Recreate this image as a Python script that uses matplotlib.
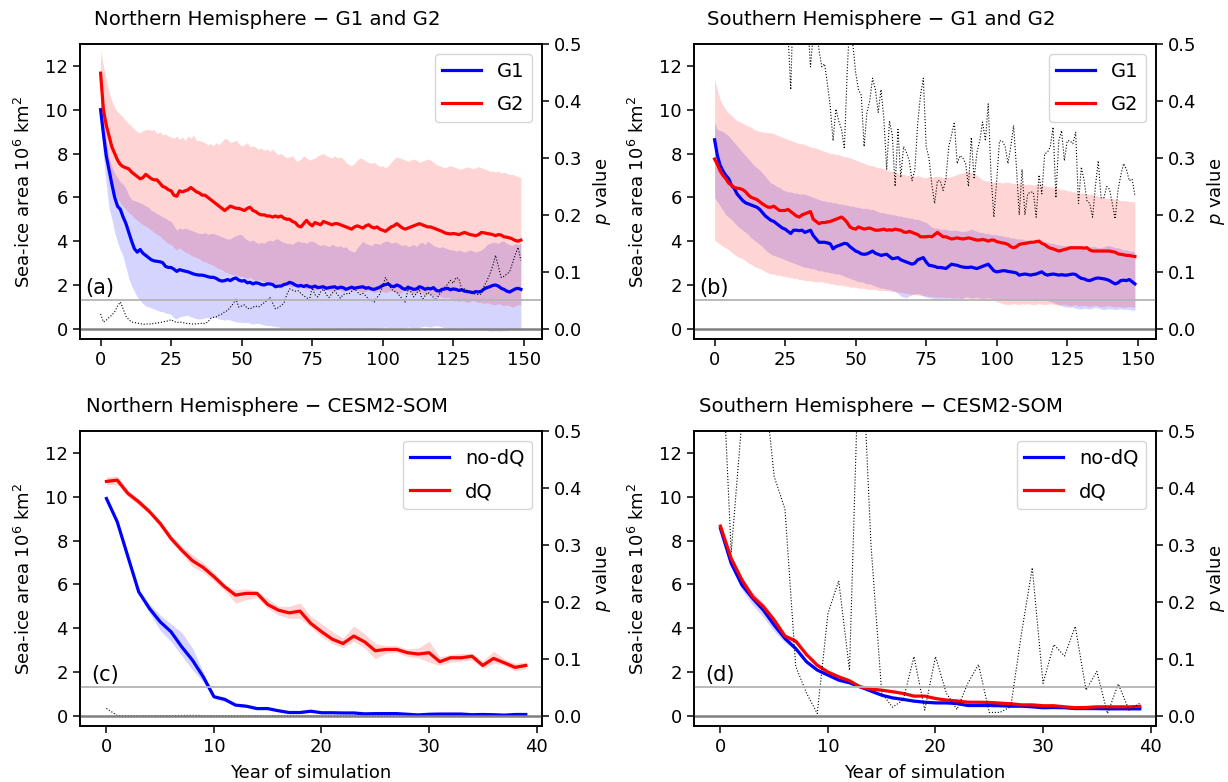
import numpy as np
import matplotlib
matplotlib.use("Agg")
import matplotlib.pyplot as plt

# ---------------- Panel (a): Northern Hemisphere G1 / G2 ----------------
a_g1 = [10.0, 8.9, 7.9, 7.25, 6.6, 6.0, 5.6, 5.45, 5.1, 4.8,
        4.4, 4.0, 3.65, 3.5, 3.62, 3.45, 3.35, 3.25, 3.15, 3.1,
        3.08, 3.06, 3.02, 2.85, 2.8, 2.8, 2.72, 2.62, 2.7, 2.66,
        2.63, 2.6, 2.55, 2.5, 2.47, 2.45, 2.45, 2.42, 2.38, 2.35,
        2.35, 2.3, 2.22, 2.18, 2.2, 2.25, 2.2, 2.28, 2.32, 2.22,
        2.18, 2.2, 2.1, 2.12, 2.05, 2.1, 2.08, 2.02, 2.0, 2.05,
        2.05, 2.02, 1.92, 1.95, 1.95, 2.02, 2.05, 2.12, 2.08, 2.0,
        1.95, 1.98, 1.93, 1.98, 1.92, 1.9, 1.95, 1.88, 1.9, 1.92,
        1.85, 1.88, 1.9, 1.92, 1.85, 1.9, 1.88, 1.8, 1.85, 1.9,
        1.85, 1.88, 1.9, 1.92, 1.85, 1.88, 1.82, 1.8, 1.85, 1.9,
        1.98, 2.02, 2.05, 1.95, 1.92, 2.0, 1.95, 1.85, 1.8, 1.9,
        1.85, 1.8, 1.82, 1.92, 1.88, 1.8, 1.85, 1.82, 1.88, 1.75,
        1.72, 1.8, 1.82, 1.85, 1.78, 1.82, 1.8, 1.75, 1.78, 1.72,
        1.7, 1.68, 1.65, 1.7, 1.68, 1.72, 1.82, 1.88, 1.92, 1.98,
        2.0, 1.95, 1.85, 1.8, 1.72, 1.68, 1.75, 1.82, 1.85, 1.8]
a_g1_hi = [10.6, 9.6, 8.6, 7.8, 7.4, 7.1, 6.9, 6.7, 6.6, 6.4,
           6.1, 5.9, 5.85, 5.8, 5.75, 5.7, 5.6, 5.55, 5.4, 5.35,
           5.25, 5.2, 5.1, 5.05, 4.95, 4.9, 4.7, 4.5, 4.6, 4.55,
           4.6, 4.55, 4.5, 4.45, 4.4, 4.35, 4.35, 4.4, 4.3, 4.35,
           4.35, 4.3, 4.25, 4.2, 4.15, 4.1, 4.1, 4.2, 4.25, 4.3,
           4.3, 4.15, 4.05, 4.0, 4.05, 3.95, 3.9, 3.95, 3.9, 4.0,
           4.05, 4.0, 4.1, 4.1, 4.0, 3.95, 3.9, 3.9, 3.85, 3.95,
           4.0, 3.95, 3.95, 3.9, 4.0, 4.0, 3.95, 3.85, 3.8, 3.85,
           3.8, 3.75, 3.85, 3.8, 3.75, 3.8, 3.7, 3.75, 3.6, 3.55,
           3.5, 3.7, 3.85, 4.0, 3.9, 3.85, 3.8, 3.9, 3.9, 3.85,
           3.95, 4.0, 4.0, 3.9, 3.95, 3.95, 3.85, 3.8, 3.85, 3.75,
           3.8, 3.85, 3.75, 3.9, 3.95, 3.85, 4.0, 3.9, 3.8, 3.75,
           3.7, 3.75, 3.7, 3.65, 3.6, 3.6, 3.55, 3.6, 3.55, 3.5,
           3.55, 3.6, 3.55, 3.5, 3.55, 3.6, 3.7, 3.85, 3.9, 3.95,
           3.95, 3.9, 4.0, 4.0, 3.9, 3.85, 3.8, 3.9, 3.85, 3.9]
a_g1_lo = [9.4, 7.9, 6.6, 5.5, 5.0, 4.4, 3.95, 3.6, 3.3, 2.8,
           2.3, 1.95, 1.7, 1.45, 1.3, 1.15, 1.05, 1.0, 0.95, 0.9,
           0.85, 0.8, 0.78, 0.72, 0.7, 0.65, 0.5, 0.45, 0.55, 0.58,
           0.6, 0.62, 0.55, 0.5, 0.45, 0.45, 0.45, 0.5, 0.52, 0.5,
           0.55, 0.5, 0.45, 0.42, 0.4, 0.42, 0.4, 0.35, 0.32, 0.3,
           0.3, 0.28, 0.3, 0.25, 0.22, 0.25, 0.25, 0.2, 0.18, 0.15,
           0.15, 0.12, 0.1, 0.08, 0.06, 0.05, 0.05, 0.04, 0.05, 0.04,
           0.03, 0.05, 0.04, 0.03, 0.05, 0.04, 0.02, 0.03, 0.05, 0.04,
           0.03, 0.02, 0.04, 0.05, 0.03, 0.02, 0.03, 0.04, 0.02, 0.0,
           0.02, 0.03, 0.05, 0.03, 0.02, 0.0, -0.02, 0.0, 0.02, 0.03,
           0.05, 0.08, 0.05, 0.02, 0.03, 0.05, 0.03, 0.02, 0.05, 0.08,
           0.05, 0.03, 0.02, 0.05, 0.1, 0.12, 0.1, 0.08, 0.12, 0.15,
           0.12, 0.08, 0.05, 0.03, 0.02, 0.0, 0.03, 0.05, 0.02, 0.0,
           -0.02, 0.0, 0.02, 0.0, -0.03, -0.05, -0.05, -0.08, -0.1, -0.1,
           -0.08, -0.1, -0.1, -0.08, -0.1, -0.05, -0.05, -0.08, -0.05, -0.05]
a_g2 = [11.67, 10.0, 9.3, 8.8, 8.3, 8.0, 7.7, 7.5, 7.4, 7.35,
        7.3, 7.15, 7.05, 6.95, 6.85, 6.9, 7.05, 6.95, 6.85, 6.8,
        6.8, 6.65, 6.5, 6.45, 6.35, 6.3, 6.1, 6.05, 6.3, 6.25,
        6.3, 6.35, 6.45, 6.35, 6.25, 6.2, 6.1, 6.1, 6.0, 5.9,
        5.8, 5.7, 5.6, 5.5, 5.4, 5.5, 5.6, 5.55, 5.5, 5.5,
        5.45, 5.4, 5.5, 5.55, 5.4, 5.35, 5.25, 5.2, 5.2, 5.15,
        5.15, 5.1, 5.15, 5.1, 5.15, 5.05, 5.0, 5.0, 4.9, 4.85,
        4.7, 4.65, 4.8, 4.95, 4.8, 4.7, 4.85, 4.8, 4.75, 4.9,
        4.85, 4.8, 4.75, 4.8, 4.8, 4.75, 4.7, 4.65, 4.6, 4.55,
        4.65, 4.7, 4.65, 4.6, 4.7, 4.75, 4.65, 4.6, 4.65, 4.55,
        4.5, 4.45, 4.55, 4.65, 4.7, 4.8, 4.7, 4.6, 4.55, 4.6,
        4.65, 4.7, 4.75, 4.8, 4.75, 4.7, 4.65, 4.65, 4.6, 4.55,
        4.5, 4.45, 4.38, 4.35, 4.33, 4.35, 4.33, 4.3, 4.35, 4.4,
        4.35, 4.3, 4.28, 4.25, 4.3, 4.4, 4.38, 4.35, 4.33, 4.3,
        4.25, 4.3, 4.28, 4.2, 4.18, 4.15, 4.1, 4.03, 4.0, 4.05]
a_g2_hi = [12.7, 12.0, 11.4, 10.8, 10.4, 10.1, 9.9, 9.8, 9.65, 9.5,
           9.35, 9.25, 9.1, 9.0, 8.95, 9.05, 9.1, 9.1, 9.05, 9.1,
           8.9, 9.0, 8.85, 8.9, 8.8, 8.75, 8.7, 8.8, 8.65, 8.75,
           8.6, 8.8, 8.7, 8.85, 8.6, 8.6, 8.55, 8.5, 8.4, 8.45,
           8.35, 8.5, 8.4, 8.55, 8.7, 8.65, 8.5, 8.55, 8.6, 8.45,
           8.35, 8.4, 8.5, 8.3, 8.35, 8.3, 8.2, 8.25, 8.15, 8.2,
           8.1, 8.2, 8.05, 7.95, 8.0, 7.9, 7.8, 7.85, 7.9, 7.7,
           7.65, 7.75, 7.9, 7.8, 7.7, 7.75, 7.8, 7.9, 7.95, 8.0,
           7.9, 7.85, 7.8, 7.9, 7.8, 7.85, 7.75, 7.6, 7.5, 7.45,
           7.55, 7.7, 7.8, 7.75, 7.65, 7.6, 7.55, 7.6, 7.5, 7.4,
           7.45, 7.35, 7.45, 7.6, 7.75, 7.85, 7.8, 7.75, 7.7, 7.65,
           7.7, 7.75, 7.7, 7.6, 7.65, 7.7, 7.75, 7.7, 7.6, 7.5,
           7.45, 7.4, 7.35, 7.4, 7.45, 7.4, 7.35, 7.3, 7.3, 7.35,
           7.4, 7.35, 7.3, 7.35, 7.4, 7.35, 7.3, 7.25, 7.2, 7.2,
           7.15, 7.2, 7.1, 7.15, 7.1, 7.05, 7.05, 7.0, 6.95, 6.9]
a_g2_lo = [9.5, 8.3, 7.5, 6.9, 6.5, 6.2, 5.95, 5.75, 5.6, 5.45,
           5.3, 5.2, 5.05, 4.95, 4.85, 4.75, 4.7, 4.6, 4.5, 4.4,
           4.3, 4.25, 4.1, 4.0, 3.9, 3.85, 3.7, 3.6, 3.7, 3.6,
           3.5, 3.45, 3.35, 3.3, 3.25, 3.2, 3.1, 3.05, 3.0, 2.95,
           2.9, 2.8, 2.75, 2.7, 2.6, 2.55, 2.5, 2.45, 2.45, 2.4,
           2.4, 2.35, 2.3, 2.35, 2.25, 2.2, 2.25, 2.2, 2.15, 2.1,
           2.15, 2.1, 2.05, 2.1, 2.0, 1.95, 2.0, 1.95, 1.9, 1.95,
           1.85, 1.9, 1.85, 1.8, 1.85, 1.8, 1.75, 1.8, 1.85, 1.75,
           1.8, 1.75, 1.7, 1.75, 1.8, 1.75, 1.7, 1.75, 1.8, 1.7,
           1.75, 1.8, 1.7, 1.65, 1.7, 1.75, 1.7, 1.65, 1.7, 1.75,
           1.7, 1.65, 1.7, 1.75, 1.7, 1.65, 1.6, 1.7, 1.75, 1.7,
           1.65, 1.6, 1.65, 1.7, 1.6, 1.55, 1.6, 1.55, 1.5, 1.45,
           1.5, 1.45, 1.4, 1.45, 1.4, 1.35, 1.3, 1.25, 1.3, 1.25,
           1.2, 1.25, 1.3, 1.25, 1.2, 1.2, 1.15, 1.2, 1.15, 1.1,
           1.1, 1.15, 1.1, 1.05, 1.1, 1.05, 1.0, 1.05, 1.1, 1.1]
a_p = [0.026, 0.012, 0.015, 0.02, 0.024, 0.03, 0.04, 0.047, 0.035, 0.022,
       0.016, 0.012, 0.011, 0.01, 0.009, 0.008, 0.008, 0.009, 0.008, 0.01,
       0.01, 0.011, 0.012, 0.013, 0.014, 0.016, 0.013, 0.011, 0.012, 0.011,
       0.01, 0.009, 0.009, 0.008, 0.009, 0.009, 0.01, 0.009, 0.012, 0.018,
       0.02, 0.021, 0.024, 0.026, 0.03, 0.032, 0.038, 0.044, 0.052, 0.038,
       0.04, 0.042, 0.036, 0.035, 0.038, 0.04, 0.038, 0.042, 0.046, 0.05,
       0.055, 0.045, 0.035, 0.037, 0.041, 0.045, 0.06, 0.07, 0.068, 0.066,
       0.067, 0.062, 0.058, 0.055, 0.05, 0.072, 0.06, 0.056, 0.065, 0.07,
       0.06, 0.055, 0.062, 0.067, 0.06, 0.054, 0.06, 0.062, 0.061, 0.066,
       0.07, 0.065, 0.06, 0.062, 0.058, 0.052, 0.05, 0.047, 0.055, 0.061,
       0.075, 0.09, 0.08, 0.07, 0.066, 0.064, 0.058, 0.052, 0.047, 0.07,
       0.065, 0.056, 0.062, 0.07, 0.05, 0.058, 0.064, 0.06, 0.055, 0.05,
       0.06, 0.065, 0.073, 0.078, 0.085, 0.08, 0.09, 0.088, 0.07, 0.07,
       0.067, 0.064, 0.062, 0.061, 0.06, 0.061, 0.075, 0.085, 0.096, 0.11,
       0.129, 0.11, 0.09, 0.092, 0.096, 0.1, 0.115, 0.13, 0.143, 0.12]

# ---------------- Panel (b): Southern Hemisphere G1 / G2 ----------------
b_g1 = [8.63, 7.9, 7.45, 7.2, 7.0, 6.85, 6.55, 6.4, 6.15, 6.0,
        5.85, 5.75, 5.7, 5.65, 5.6, 5.55, 5.45, 5.3, 5.15, 5.05,
        4.95, 4.9, 4.8, 4.7, 4.6, 4.55, 4.45, 4.35, 4.5, 4.5,
        4.48, 4.5, 4.4, 4.45, 4.5, 4.25, 4.1, 3.95, 3.95, 3.95,
        3.92, 3.88, 3.65, 3.75, 3.8, 3.85, 3.9, 3.88, 3.75, 3.65,
        3.55, 3.5, 3.42, 3.4, 3.42, 3.48, 3.55, 3.45, 3.4, 3.35,
        3.38, 3.4, 3.3, 3.2, 3.22, 3.25, 3.15, 3.1, 3.05, 3.0,
        2.95, 3.0, 3.15, 3.2, 3.25, 3.05, 2.9, 2.88, 2.85, 2.8,
        2.8, 2.78, 2.75, 2.85, 2.95, 2.92, 2.9, 2.85, 2.82, 2.8,
        2.8, 2.82, 2.78, 2.75, 2.8, 2.85, 2.9, 2.95, 2.8, 2.65,
        2.6, 2.62, 2.65, 2.65, 2.62, 2.6, 2.58, 2.55, 2.45, 2.48,
        2.5, 2.48, 2.45, 2.48, 2.5, 2.55, 2.6, 2.5, 2.45, 2.48,
        2.5, 2.48, 2.45, 2.47, 2.45, 2.45, 2.48, 2.5, 2.48, 2.38,
        2.3, 2.28, 2.22, 2.2, 2.25, 2.3, 2.32, 2.3, 2.28, 2.25,
        2.2, 2.12, 2.05, 2.1, 2.2, 2.22, 2.2, 2.25, 2.15, 2.05]
b_g1_hi = [9.4, 9.1, 9.05, 9.0, 8.9, 8.8, 8.65, 8.5, 8.35, 8.2,
           8.05, 7.9, 7.75, 7.6, 7.45, 7.35, 7.25, 7.1, 6.95, 6.8,
           6.65, 6.6, 6.5, 6.45, 6.35, 6.3, 6.25, 6.25, 6.2, 6.2,
           6.15, 6.15, 6.15, 6.1, 6.05, 6.0, 5.95, 5.9, 5.85, 5.85,
           5.8, 5.8, 5.75, 5.75, 5.7, 5.7, 5.65, 5.65, 5.6, 5.6,
           5.55, 5.55, 5.5, 5.5, 5.5, 5.45, 5.45, 5.4, 5.35, 5.3,
           5.3, 5.25, 5.25, 5.2, 5.2, 5.15, 5.15, 5.1, 5.1, 5.05,
           5.05, 5.0, 5.0, 4.95, 4.9, 4.85, 4.75, 4.65, 4.6, 4.6,
           4.55, 4.55, 4.55, 4.5, 4.5, 4.5, 4.5, 4.45, 4.45, 4.45,
           4.5, 4.55, 4.5, 4.45, 4.4, 4.4, 4.35, 4.35, 4.3, 4.3,
           4.3, 4.25, 4.25, 4.2, 4.2, 4.15, 4.15, 4.1, 4.1, 4.1,
           4.05, 4.05, 4.0, 4.0, 4.05, 4.1, 4.0, 3.95, 3.95, 3.9,
           3.9, 3.85, 3.85, 3.8, 3.8, 3.8, 3.75, 3.75, 3.75, 3.7,
           3.7, 3.7, 3.7, 3.72, 3.75, 3.75, 3.7, 3.7, 3.75, 3.8,
           3.8, 3.75, 3.7, 3.7, 3.65, 3.6, 3.6, 3.55, 3.55, 3.5]
b_g1_lo = [6.0, 5.8, 5.6, 5.4, 5.2, 5.1, 5.0, 4.85, 4.7, 4.6,
           4.5, 4.4, 4.3, 4.15, 4.05, 3.95, 3.85, 3.75, 3.6, 3.5,
           3.4, 3.35, 3.3, 3.25, 3.2, 3.15, 3.1, 3.05, 3.0, 2.95,
           2.9, 2.85, 2.8, 2.8, 2.75, 2.75, 2.7, 2.65, 2.65, 2.6,
           2.6, 2.55, 2.55, 2.5, 2.5, 2.45, 2.4, 2.35, 2.3, 2.25,
           2.2, 2.15, 2.15, 2.1, 2.05, 2.05, 2.0, 1.95, 1.9, 1.85,
           1.85, 1.8, 1.8, 1.75, 1.7, 1.6, 1.5, 1.45, 1.42, 1.5,
           1.55, 1.6, 1.6, 1.58, 1.5, 1.45, 1.42, 1.4, 1.35, 1.3,
           1.3, 1.32, 1.35, 1.3, 1.28, 1.3, 1.35, 1.3, 1.4, 1.45,
           1.45, 1.4, 1.42, 1.45, 1.4, 1.38, 1.4, 1.42, 1.4, 1.38,
           1.35, 1.3, 1.3, 1.32, 1.35, 1.3, 1.28, 1.3, 1.32, 1.35,
           1.3, 1.32, 1.35, 1.3, 1.28, 1.3, 1.32, 1.3, 1.28, 1.25,
           1.2, 1.15, 1.1, 1.05, 1.0, 1.0, 0.98, 1.0, 0.95, 0.92,
           0.9, 0.95, 0.92, 0.9, 0.95, 0.98, 0.95, 0.9, 0.88, 0.9,
           0.92, 0.9, 0.88, 0.9, 0.92, 0.88, 0.9, 0.88, 0.85, 0.85]
b_g2 = [7.75, 7.5, 7.2, 7.0, 6.85, 6.65, 6.55, 6.45, 6.42, 6.4,
        6.35, 6.25, 6.1, 6.0, 5.95, 5.9, 5.8, 5.7, 5.62, 5.55,
        5.55, 5.6, 5.5, 5.4, 5.4, 5.4, 5.45, 5.35, 5.25, 5.15,
        5.1, 5.2, 5.25, 5.3, 5.35, 5.0, 4.9, 4.8, 4.85, 4.85,
        4.88, 4.9, 4.95, 5.0, 5.05, 5.1, 5.0, 4.85, 4.65, 4.58,
        4.55, 4.65, 4.6, 4.55, 4.58, 4.6, 4.55, 4.5, 4.5, 4.52,
        4.55, 4.5, 4.52, 4.5, 4.55, 4.52, 4.5, 4.42, 4.4, 4.45,
        4.4, 4.35, 4.3, 4.2, 4.2, 4.2, 4.22, 4.2, 4.3, 4.4,
        4.3, 4.2, 4.2, 4.15, 4.1, 4.12, 4.15, 4.12, 4.1, 4.12,
        4.15, 4.12, 4.08, 4.05, 4.05, 4.08, 4.05, 4.0, 4.05, 4.05,
        3.98, 3.95, 3.92, 3.9, 3.85, 3.75, 3.7, 3.75, 3.85, 3.88,
        3.9, 3.92, 3.95, 3.95, 3.98, 4.0, 3.9, 3.85, 3.75, 3.68,
        3.65, 3.6, 3.55, 3.58, 3.62, 3.65, 3.7, 3.7, 3.7, 3.7,
        3.7, 3.68, 3.7, 3.6, 3.55, 3.55, 3.55, 3.55, 3.55, 3.55,
        3.55, 3.52, 3.5, 3.42, 3.4, 3.38, 3.35, 3.35, 3.32, 3.3]
b_g2_hi = [11.4, 10.9, 10.45, 10.2, 10.0, 9.85, 9.75, 9.6, 9.5, 9.45,
           9.4, 9.3, 9.25, 9.2, 9.1, 9.05, 9.0, 9.0, 8.95, 8.95,
           8.95, 8.9, 8.85, 8.8, 8.75, 8.7, 8.65, 8.6, 8.55, 8.5,
           8.45, 8.45, 8.4, 8.35, 8.3, 8.28, 8.25, 8.2, 8.15, 8.1,
           8.05, 8.0, 8.0, 7.95, 7.95, 7.9, 7.85, 7.85, 7.8, 7.75,
           7.7, 7.65, 7.6, 7.55, 7.5, 7.45, 7.45, 7.4, 7.35, 7.35,
           7.3, 7.25, 7.2, 7.2, 7.15, 7.1, 7.05, 7.05, 7.0, 7.0,
           7.0, 6.95, 7.0, 6.95, 6.9, 6.9, 6.95, 6.9, 6.95, 6.95,
           6.95, 6.9, 6.95, 6.9, 6.95, 7.0, 7.05, 7.1, 7.1, 7.15,
           7.2, 7.15, 7.1, 7.0, 6.9, 6.8, 6.75, 6.75, 6.7, 6.7,
           6.7, 6.7, 6.65, 6.7, 6.7, 6.65, 6.65, 6.6, 6.65, 6.6,
           6.6, 6.6, 6.6, 6.55, 6.6, 6.6, 6.6, 6.55, 6.5, 6.5,
           6.45, 6.45, 6.4, 6.35, 6.35, 6.3, 6.3, 6.25, 6.25, 6.2,
           6.2, 6.2, 6.15, 6.15, 6.15, 6.1, 6.05, 6.0, 6.0, 5.95,
           5.95, 5.95, 5.9, 5.9, 5.85, 5.85, 5.85, 5.8, 5.8, 5.8]
b_g2_lo = [4.05, 3.95, 3.85, 3.75, 3.7, 3.6, 3.5, 3.4, 3.3, 3.25,
           3.2, 3.1, 3.0, 2.95, 2.85, 2.8, 2.75, 2.7, 2.6, 2.55,
           2.5, 2.5, 2.45, 2.45, 2.4, 2.4, 2.35, 2.35, 2.3, 2.3,
           2.25, 2.25, 2.2, 2.2, 2.2, 2.15, 2.15, 2.15, 2.15, 2.1,
           2.1, 2.05, 2.05, 2.0, 2.0, 2.0, 1.95, 1.95, 1.9, 1.9,
           1.9, 1.85, 1.85, 1.85, 1.8, 1.8, 1.8, 1.8, 1.75, 1.75,
           1.75, 1.75, 1.72, 1.7, 1.7, 1.68, 1.65, 1.65, 1.62, 1.6,
           1.58, 1.55, 1.55, 1.52, 1.5, 1.5, 1.48, 1.48, 1.45, 1.45,
           1.45, 1.45, 1.42, 1.45, 1.42, 1.4, 1.42, 1.4, 1.38, 1.4,
           1.38, 1.35, 1.38, 1.35, 1.32, 1.35, 1.32, 1.3, 1.3, 1.28,
           1.25, 1.2, 1.15, 1.12, 1.1, 1.12, 1.15, 1.12, 1.1, 1.15,
           1.12, 1.15, 1.12, 1.1, 1.12, 1.15, 1.12, 1.1, 1.12, 1.15,
           1.12, 1.1, 1.08, 1.1, 1.12, 1.08, 1.05, 1.08, 1.1, 1.05,
           1.05, 1.08, 1.05, 1.02, 1.05, 1.08, 1.05, 1.0, 1.02, 1.05,
           1.05, 1.02, 1.0, 1.02, 1.0, 0.98, 1.0, 1.02, 1.0, 0.98]
b_p = [0.82, 0.75, 0.88, 0.79, 0.71, 0.85, 0.77, 0.9, 0.8, 0.74,
       0.86, 0.78, 0.7, 0.83, 0.76, 0.88, 0.8, 0.72, 0.84, 0.79,
       0.73, 0.87, 0.78, 0.7, 0.81, 0.62, 0.52, 0.42, 0.6, 0.55,
       0.58, 0.63, 0.56, 0.54, 0.46, 0.52, 0.55, 0.49, 0.46, 0.465,
       0.43, 0.39, 0.33, 0.386, 0.365, 0.35, 0.316, 0.45, 0.55, 0.5,
       0.45, 0.42, 0.41, 0.32, 0.38, 0.4, 0.44, 0.42, 0.38, 0.42,
       0.37, 0.28, 0.365, 0.34, 0.25, 0.35, 0.266, 0.32, 0.31, 0.295,
       0.26, 0.28, 0.36, 0.41, 0.44, 0.32, 0.3, 0.254, 0.22, 0.26,
       0.26, 0.243, 0.263, 0.32, 0.34, 0.363, 0.29, 0.304, 0.3, 0.29,
       0.25, 0.336, 0.263, 0.31, 0.33, 0.363, 0.33, 0.395, 0.27, 0.196,
       0.26, 0.33, 0.33, 0.32, 0.29, 0.32, 0.357, 0.284, 0.2, 0.28,
       0.2, 0.237, 0.24, 0.24, 0.196, 0.27, 0.237, 0.307, 0.31, 0.32,
       0.354, 0.23, 0.33, 0.348, 0.295, 0.33, 0.33, 0.325, 0.345, 0.22,
       0.284, 0.26, 0.225, 0.22, 0.196, 0.25, 0.295, 0.23, 0.23, 0.25,
       0.245, 0.22, 0.193, 0.243, 0.27, 0.29, 0.28, 0.26, 0.263, 0.234]

# ---------------- Panel (c): Northern Hemisphere CESM2-SOM ----------------
c_nodq = [9.92, 8.86, 7.26, 5.66, 4.9, 4.29, 3.84, 3.15, 2.54, 1.78,
          0.87, 0.75, 0.49, 0.44, 0.33, 0.33, 0.23, 0.15, 0.15, 0.21,
          0.14, 0.14, 0.13, 0.13, 0.09, 0.1, 0.1, 0.1, 0.07, 0.04,
          0.07, 0.08, 0.08, 0.08, 0.05, 0.06, 0.05, 0.03, 0.06, 0.06]
c_nodq_hi = [9.97, 8.95, 7.35, 5.75, 5.1, 4.6, 4.2, 3.8, 3.1, 2.0,
             0.95, 0.85, 0.55, 0.5, 0.38, 0.38, 0.27, 0.19, 0.19, 0.25,
             0.17, 0.17, 0.16, 0.16, 0.12, 0.13, 0.13, 0.13, 0.1, 0.07,
             0.1, 0.11, 0.11, 0.11, 0.08, 0.09, 0.08, 0.06, 0.09, 0.09]
c_nodq_lo = [9.87, 8.77, 7.17, 5.57, 4.7, 3.9, 3.4, 2.75, 2.1, 1.55,
             0.78, 0.65, 0.43, 0.38, 0.28, 0.28, 0.19, 0.11, 0.11, 0.17,
             0.11, 0.11, 0.1, 0.1, 0.06, 0.07, 0.07, 0.07, 0.04, 0.01,
             0.04, 0.05, 0.05, 0.05, 0.02, 0.03, 0.02, 0.0, 0.03, 0.03]
c_dq = [10.7, 10.76, 10.15, 9.77, 9.32, 8.78, 8.1, 7.56, 7.08, 6.77,
        6.35, 5.89, 5.51, 5.59, 5.59, 5.08, 4.82, 4.7, 4.78, 4.22,
        3.84, 3.5, 3.3, 3.64, 3.38, 2.97, 3.03, 3.03, 2.88, 2.82,
        2.88, 2.47, 2.65, 2.65, 2.72, 2.3, 2.62, 2.42, 2.21, 2.3]
c_dq_hi = [10.9, 10.95, 10.3, 9.9, 9.45, 8.9, 8.25, 7.75, 7.35, 7.0,
           6.55, 6.0, 5.75, 5.8, 5.7, 5.35, 5.0, 5.0, 5.15, 4.55,
           4.2, 3.85, 3.55, 4.1, 3.75, 3.3, 3.2, 3.2, 3.05, 3.1,
           3.4, 2.7, 2.8, 2.85, 2.85, 2.5, 2.95, 2.6, 2.4, 2.45]
c_dq_lo = [10.55, 10.55, 10.0, 9.6, 9.2, 8.6, 7.95, 7.4, 6.8, 6.55,
           6.15, 5.7, 5.15, 5.3, 5.4, 4.9, 4.6, 4.45, 4.45, 4.05,
           3.6, 3.3, 3.1, 3.4, 3.1, 2.6, 2.85, 2.9, 2.7, 2.65,
           2.45, 2.3, 2.45, 2.5, 2.55, 2.15, 2.4, 2.3, 2.05, 2.15]
c_p = [0.013, 0.0005, 0.0003, 0.0002, 0.0002, 0.0003, 0.0004, 0.0006, 0.0008, 0.0005,
       0.0003, 0.0002, 0.0002, 0.0001, 0.0002, 0.0001, 0.0001, 0.0002, 0.0001, 0.0001,
       0.0001, 0.0001, 0.0002, 0.0001, 0.0001, 0.0001, 0.0002, 0.0001, 0.0001, 0.0001,
       0.0001, 0.0001, 0.0001, 0.0002, 0.0001, 0.0001, 0.0001, 0.0001, 0.0001, 0.0001]

# ---------------- Panel (d): Southern Hemisphere CESM2-SOM ----------------
d_nodq = [8.55, 6.96, 5.97, 5.36, 4.82, 4.14, 3.53, 3.07, 2.47, 2.09,
          1.86, 1.63, 1.51, 1.32, 1.13, 0.94, 0.82, 0.75, 0.67, 0.62,
          0.59, 0.59, 0.56, 0.47, 0.47, 0.47, 0.46, 0.44, 0.44, 0.41,
          0.37, 0.38, 0.37, 0.33, 0.33, 0.33, 0.32, 0.32, 0.32, 0.32]
d_nodq_hi = [8.65, 7.1, 6.2, 5.65, 5.1, 4.4, 3.7, 3.2, 2.57, 2.17,
             1.94, 1.7, 1.58, 1.38, 1.19, 1.0, 0.88, 0.8, 0.72, 0.67,
             0.64, 0.64, 0.61, 0.52, 0.52, 0.52, 0.51, 0.49, 0.49, 0.46,
             0.42, 0.43, 0.42, 0.38, 0.38, 0.38, 0.37, 0.37, 0.37, 0.37]
d_nodq_lo = [8.45, 6.82, 5.75, 5.05, 4.5, 3.85, 3.35, 2.95, 2.37, 2.0,
             1.78, 1.56, 1.44, 1.26, 1.07, 0.88, 0.76, 0.7, 0.62, 0.57,
             0.54, 0.54, 0.51, 0.42, 0.42, 0.42, 0.41, 0.39, 0.39, 0.36,
             0.32, 0.33, 0.32, 0.28, 0.28, 0.28, 0.27, 0.27, 0.27, 0.27]
d_dq = [8.66, 7.18, 6.2, 5.43, 4.98, 4.37, 3.64, 3.41, 2.8, 2.31,
        2.0, 1.78, 1.6, 1.32, 1.22, 1.17, 1.1, 1.02, 0.9, 0.9,
        0.79, 0.72, 0.68, 0.62, 0.62, 0.61, 0.58, 0.55, 0.5, 0.5,
        0.46, 0.46, 0.41, 0.37, 0.38, 0.41, 0.41, 0.41, 0.41, 0.43]
d_dq_hi = [8.76, 7.3, 6.35, 5.6, 5.15, 4.5, 3.75, 3.55, 2.9, 2.4,
           2.08, 1.86, 1.67, 1.38, 1.28, 1.22, 1.15, 1.07, 0.95, 0.95,
           0.84, 0.77, 0.73, 0.67, 0.67, 0.66, 0.63, 0.6, 0.55, 0.55,
           0.51, 0.5, 0.46, 0.42, 0.43, 0.46, 0.46, 0.46, 0.46, 0.48]
d_dq_lo = [8.56, 7.06, 6.05, 5.28, 4.82, 4.24, 3.53, 3.28, 2.7, 2.22,
           1.92, 1.7, 1.53, 1.26, 1.16, 1.12, 1.05, 0.97, 0.85, 0.85,
           0.74, 0.67, 0.63, 0.57, 0.57, 0.56, 0.53, 0.5, 0.45, 0.45,
           0.41, 0.42, 0.36, 0.32, 0.33, 0.36, 0.36, 0.36, 0.36, 0.38]
d_p = [0.7, 0.287, 0.52, 0.8, 0.6, 0.42, 0.363, 0.087, 0.04, 0.004,
       0.18, 0.237, 0.08, 0.72, 0.3, 0.04, 0.015, 0.028, 0.104, 0.01,
       0.104, 0.04, 0.011, 0.057, 0.09, 0.006, 0.006, 0.016, 0.145, 0.26,
       0.057, 0.125, 0.105, 0.157, 0.045, 0.078, 0.004, 0.056, 0.01, 0.022]

titles = ["Northern Hemisphere \u2212 G1 and G2", "Southern Hemisphere \u2212 G1 and G2",
          "Northern Hemisphere \u2212 CESM2-SOM", "Southern Hemisphere \u2212 CESM2-SOM"]
letters = ["(a)", "(b)", "(c)", "(d)"]
legend_top = ["G1", "G2"]
legend_bottom = ["no-dQ", "dQ"]
p_threshold = 0.05

plt.rcParams["font.family"] = "DejaVu Sans"
plt.rcParams["axes.linewidth"] = 1.2

fig = plt.figure(figsize=(12.28, 7.82), dpi=100)
W = 0.3765
H = 0.3776
positions = [(0.0648, 0.5661), (0.5648, 0.5661), (0.0648, 0.0712), (0.5648, 0.0712)]

YLO, YHI = -0.48, 13.0
PHI = 0.5
PLO = YLO / YHI * PHI

panels = [
    (a_g1, a_g1_lo, a_g1_hi, a_g2, a_g2_lo, a_g2_hi, a_p, legend_top, (-7.45, 156.45), -5.6, False),
    (b_g1, b_g1_lo, b_g1_hi, b_g2, b_g2_lo, b_g2_hi, b_p, legend_top, (-7.45, 156.45), -5.6, False),
    (c_nodq, c_nodq_lo, c_nodq_hi, c_dq, c_dq_lo, c_dq_hi, c_p, legend_bottom, (-2.5, 40.5), -1.4, True),
    (d_nodq, d_nodq_lo, d_nodq_hi, d_dq, d_dq_lo, d_dq_hi, d_p, legend_bottom, (-2.5, 40.5), -1.4, True),
]

FS = 13
for i, (bm, blo, bhi, rm, rlo, rhi, pv, labs, xl, lx, bottom) in enumerate(panels):
    ax = fig.add_axes([positions[i][0], positions[i][1], W, H])
    x = np.arange(len(bm))
    ax.fill_between(x, blo, bhi, color="blue", alpha=0.17, linewidth=0)
    ax.fill_between(x, rlo, rhi, color="red", alpha=0.17, linewidth=0)
    l1, = ax.plot(x, bm, color="blue", lw=2.3, label=labs[0])
    l2, = ax.plot(x, rm, color="red", lw=2.3, label=labs[1])
    ax.set_xlim(*xl)
    ax.set_ylim(YLO, YHI)
    ax.set_yticks([0, 2, 4, 6, 8, 10, 12])
    if bottom:
        ax.set_xticks([0, 10, 20, 30, 40])
        ax.set_xlabel("Year of simulation", fontsize=FS, labelpad=6)
    else:
        ax.set_xticks([0, 25, 50, 75, 100, 125, 150])
    ax.tick_params(labelsize=FS, width=1.1, length=5)
    ax.set_ylabel("Sea-ice area 10$^6$ km$^2$", fontsize=FS, labelpad=7.5)
    ax.set_title(titles[i], fontsize=14.2, pad=13.5, x=0.405)
    ax.text(lx, 1.6, letters[i], fontsize=15)

    ax2 = ax.twinx()
    ax2.plot(x, pv, color="black", lw=0.8, linestyle=":")
    ax2.axhline(0.0, color="#808080", lw=1.8)
    ax2.axhline(p_threshold, color="#b4b4b4", lw=1.3)
    ax2.set_ylim(PLO, PHI)
    ax2.set_yticks([0.0, 0.1, 0.2, 0.3, 0.4, 0.5])
    ax2.tick_params(labelsize=FS, width=1.1, length=5)
    ax2.set_ylabel("$p$ value", fontsize=FS, labelpad=6)
    ax2.legend([l1, l2], labs, loc="upper right", fontsize=14, handlelength=2.0,
               labelspacing=0.75)

fig.savefig("out.png", dpi=100)
